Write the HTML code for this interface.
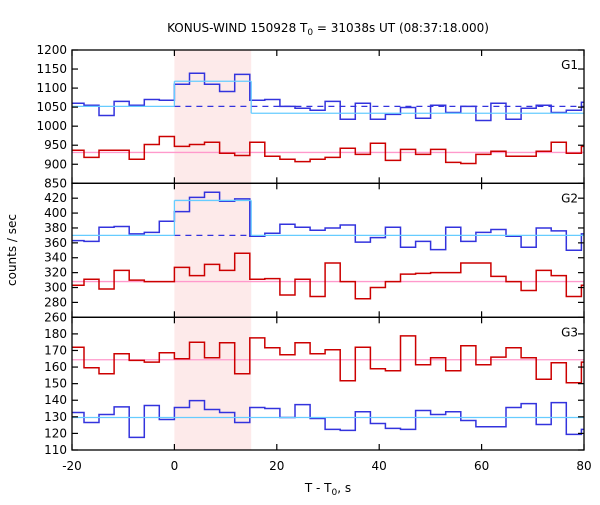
<!DOCTYPE html>
<html><head><meta charset="utf-8"><style>
body{margin:0;background:#fff;}
svg{font-family:"DejaVu Sans","Liberation Sans",sans-serif;}
</style></head><body>
<svg id="chart" width="600" height="500" viewBox="0 0 600 500" xmlns="http://www.w3.org/2000/svg">
<text x="328" y="32" font-size="12" text-anchor="middle">KONUS-WIND 150928 T<tspan font-size="9" dy="3">0</tspan><tspan dy="-3"> = 31038s UT (08:37:18.000)</tspan></text>
<text transform="translate(16,250) rotate(-90)" font-size="12" text-anchor="middle">counts / sec</text>
<text x="328" y="492" font-size="12" text-anchor="middle">T - T<tspan font-size="9" dy="3">0</tspan><tspan dy="-3">, s</tspan></text>
</svg>
<script>
const binWidth = 2.944;
const firstBin = -7;
const xTicks = [-20, 0, 20, 40, 60, 80];
const burstStart = 0, burstEnd = 15;

const g1Blue = [1060,1055,1028,1065,1055,1070,1068,1110,1139,1110,1091,1136,1068,1070,1052,1047,1042,1065,1018,1060,1018,1031,1049,1021,1055,1036,1052,1015,1060,1018,1047,1055,1036,1042,1063];
const g1Red = [937,918,937,937,913,952,973,947,952,958,929,923,958,921,913,907,913,918,942,926,955,910,939,926,939,905,902,926,934,921,921,934,958,929,947];
const g1BlueBg = 1052, g1BlueBurst = 1118, g1BlueAfter = 1034, g1RedBg = 931;

const g2Blue = [363,362,381,382,372,374,389,402,421,428,416,419,369,373,385,381,377,380,384,361,367,381,354,362,351,381,362,374,378,369,354,380,376,350,372];
const g2Red = [303,311,298,323,310,308,308,327,316,331,323,346,311,312,290,311,288,333,308,285,300,308,318,319,320,320,333,333,315,308,296,323,316,288,303];
const g2BlueBg = 370, g2BlueBurst = 417, g2RedBg = 308;

const g3Red = [172,159.6,156,168,164,163,168.6,165,175,165.6,174.6,156,177.6,171.6,167.4,174.6,168,170.4,151.8,172,159,157.8,178.8,161.4,165.6,157.8,172.8,161.4,166,171.6,165.6,152.6,162.6,150.6,163];
const g3Blue = [132.6,126.6,131.4,136,117.6,136.8,128.4,135.6,139.8,134.4,132.6,126.6,135.6,135,129.6,137.4,129,122.4,121.8,133,126,123,122.4,133.8,131.4,133,127.8,124,124,135.6,138,125.4,138.6,119.4,122.4];
const g3BlueBg = 129.6, g3RedBg = 164.4;

const g1Ticks = [850,900,950,1000,1050,1100,1150,1200];
const g2Ticks = [260,280,300,320,340,360,380,400,420,440];
const g2Labels = [260,280,300,320,340,360,380,400,420];
const g3Ticks = [110,120,130,140,150,160,170,180,190];
const g3Labels = [110,120,130,140,150,160,170,180];

const svg = document.getElementById('chart');
const NS = 'http://www.w3.org/2000/svg';
const X0 = 72, X1 = 584;
const xs = v => X0 + (v + 20) / 100 * (X1 - X0);
function mk(tag, attrs, parent) {
  const e = document.createElementNS(NS, tag);
  for (const k in attrs) e.setAttribute(k, attrs[k]);
  (parent || svg).appendChild(e);
  return e;
}
const panels = [
  {name:'g1', top:50, bot:183.3, min:850, max:1200, ticks:g1Ticks, labels:g1Ticks},
  {name:'g2', top:183.3, bot:317.3, min:260, max:440, ticks:g2Ticks, labels:g2Labels},
  {name:'g3', top:317.3, bot:450, min:110, max:190, ticks:g3Ticks, labels:g3Labels}
];
panels.forEach(p => p.y = v => p.bot - (v - p.min) / (p.max - p.min) * (p.bot - p.top));

const defs = mk('defs', {});
const cp = mk('clipPath', {id:'plotclip'}, defs);
mk('rect', {x:X0, y:50, width:X1-X0, height:400}, cp);

const shade = mk('rect', {x:xs(burstStart), y:50, width:xs(burstEnd)-xs(burstStart), height:400, fill:'#fdeaea'});



function stairs(p, vals, color, name) {
  let d = '';
  vals.forEach((v, i) => {
    const k = firstBin + i;
    const xa = xs(k * binWidth), xb = xs((k + 1) * binWidth), yy = p.y(v);
    d += (i === 0 ? 'M' : 'L') + xa.toFixed(1) + ',' + yy.toFixed(1) + 'L' + xb.toFixed(1) + ',' + yy.toFixed(1);
  });
  const e = mk('path', {d:d, fill:'none', stroke:color, 'stroke-width':1.5, 'clip-path':'url(#plotclip)'});
  
  
}
function hline(p, v, a, b, color, name, dash) {
  const e = mk('line', {x1:xs(a), x2:xs(b), y1:p.y(v), y2:p.y(v), stroke:color, 'stroke-width':1.3});
  if (dash) e.setAttribute('stroke-dasharray', '6,5');
  
  
}
function vline(p, x, va, vb, color, name) {
  const e = mk('line', {x1:xs(x), x2:xs(x), y1:p.y(va), y2:p.y(vb), stroke:color, 'stroke-width':1.3});
  
  
}
const [P1, P2, P3] = panels;
// G1
hline(P1, g1RedBg, -20, 80, '#ff99cc', 'g1-red-background');
stairs(P1, g1Red, '#cc0000', 'g1-red-series');
stairs(P1, g1Blue, '#3333dd', 'g1-blue-series');
hline(P1, g1BlueBg, burstStart, 80, '#3333dd', 'g1-blue-background-dashed', true);
hline(P1, g1BlueBg, -20, burstStart, '#66ccff', 'g1-cyan-pre');
hline(P1, g1BlueBurst, burstStart, burstEnd, '#66ccff', 'g1-cyan-burst');
hline(P1, g1BlueAfter, burstEnd, 80, '#66ccff', 'g1-cyan-post');
vline(P1, burstStart, g1BlueBg, g1BlueBurst, '#66ccff', 'g1-cyan-rise');
vline(P1, burstEnd, g1BlueBurst, g1BlueAfter, '#66ccff', 'g1-cyan-fall');
// G2
hline(P2, g2RedBg, -20, 80, '#ff99cc', 'g2-red-background');
stairs(P2, g2Red, '#cc0000', 'g2-red-series');
stairs(P2, g2Blue, '#3333dd', 'g2-blue-series');
hline(P2, g2BlueBg, burstStart, burstEnd, '#3333dd', 'g2-blue-background-dashed', true);
hline(P2, g2BlueBg, -20, burstStart, '#66ccff', 'g2-cyan-pre');
hline(P2, g2BlueBurst, burstStart, burstEnd, '#66ccff', 'g2-cyan-burst');
hline(P2, g2BlueBg, burstEnd, 80, '#66ccff', 'g2-cyan-post');
vline(P2, burstStart, g2BlueBg, g2BlueBurst, '#66ccff', 'g2-cyan-rise');
vline(P2, burstEnd, g2BlueBurst, g2BlueBg, '#66ccff', 'g2-cyan-fall');
// G3
hline(P3, g3RedBg, -20, 80, '#ff99cc', 'g3-red-background');
stairs(P3, g3Red, '#cc0000', 'g3-red-series');
stairs(P3, g3Blue, '#3333dd', 'g3-blue-series');
hline(P3, g3BlueBg, -20, 80, '#66ccff', 'g3-cyan-background');

// axes
panels.forEach((p, idx) => {
  const fr = mk('rect', {x:X0, y:p.top, width:X1-X0, height:p.bot-p.top, fill:'none', stroke:'#000', 'stroke-width':1.3});
  
  
  p.ticks.forEach(t => {
    const yy = p.y(t);
    mk('line', {x1:X0, x2:X0+6, y1:yy, y2:yy, stroke:'#000', 'stroke-width':1.2});
    mk('line', {x1:X1-6, x2:X1, y1:yy, y2:yy, stroke:'#000', 'stroke-width':1.2});
  });
  p.labels.forEach(t => {
    const tx = mk('text', {x:X0-5, y:p.y(t)+4, 'font-size':12, 'text-anchor':'end'});
    tx.textContent = t;
    
    
  });
  xTicks.forEach(t => {
    mk('line', {x1:xs(t), x2:xs(t), y1:p.top, y2:p.top+6, stroke:'#000', 'stroke-width':1.2});
    mk('line', {x1:xs(t), x2:xs(t), y1:p.bot-6, y2:p.bot, stroke:'#000', 'stroke-width':1.2});
  });
  const lab = mk('text', {x:X1-6, y:p.top+19, 'font-size':12, 'text-anchor':'end'});
  lab.textContent = 'G' + (idx + 1);
  
  
});
xTicks.forEach(t => {
  const tx = mk('text', {x:xs(t), y:470, 'font-size':12, 'text-anchor':'middle'});
  tx.textContent = t;
  
  
});
</script>
</body></html>
